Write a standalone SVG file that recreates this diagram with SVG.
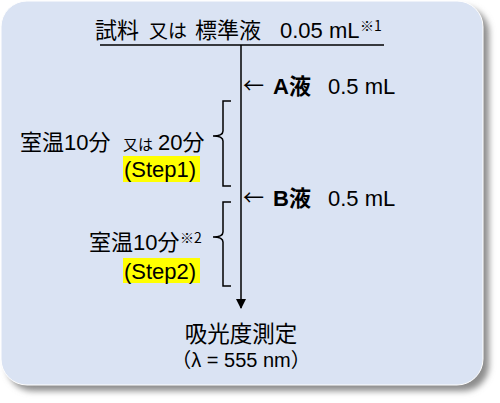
<svg xmlns="http://www.w3.org/2000/svg" width="500" height="403" viewBox="0 0 500 403">
<defs>
<filter id="sh" x="-10%" y="-10%" width="120%" height="120%"><feGaussianBlur stdDeviation="3"/></filter>
<marker id="ah" markerWidth="10" markerHeight="10" refX="9" refY="5" orient="auto" markerUnits="userSpaceOnUse"><path d="M0,0 L10,5 L0,10 Z" fill="#000"/></marker>
<style>
text{font-family:"Liberation Sans","Noto Sans CJK JP",sans-serif;fill:#000}
.t{font-size:22px}
.s{font-size:15px}
.sup{font-size:14px;font-family:"Noto Sans CJK JP",sans-serif}
.arr{font-size:21px;font-family:"Noto Sans CJK JP",sans-serif}
.b{font-weight:bold}
.ln{stroke:#000;stroke-width:1.5;fill:none}
.hl{fill:#FFFF00}
</style>
</defs>
<rect x="7" y="7" width="482" height="384" rx="26" fill="#8c8c8c" filter="url(#sh)"/>
<rect x="1" y="1" width="482" height="384" rx="26" fill="#DAE3F3" stroke="#ffffff" stroke-width="1"/>
<g id="title">
<text class="t" y="38"><tspan x="95">試料</tspan><tspan x="149" style="font-size:19px">又は</tspan><tspan x="195">標準液</tspan><tspan x="280">0.05 mL</tspan></text>
<text class="sup" x="360" y="31">※1</text>
</g>
<g id="connectors">
<line class="ln" x1="100" y1="45" x2="384" y2="45"/>
<line class="ln" x1="241" y1="45" x2="241" y2="308" marker-end="url(#ah)"/>
<path class="ln" d="M231,101 H223 V131 Q223,136 213,136 Q223,136 223,141 V186 H231"/>
<path class="ln" d="M231,202 H223 V232 Q223,237 213,237 Q223,237 223,242 V286 H231"/>
</g>
<g id="addA">
<text class="arr" x="243" y="93">←</text>
<text class="t b" x="273" y="94">A液</text>
<text class="t" x="328" y="94">0.5 mL</text>
</g>
<g id="step1">
<text class="t" x="20" y="150">室温10分</text>
<text class="s" x="123" y="150">又は</text>
<text class="t" x="158" y="150">20分</text>
<rect class="hl" x="123" y="156" width="77" height="26"/>
<text class="t" x="124" y="177">(Step1)</text>
</g>
<g id="addB">
<text class="arr" x="243" y="205">←</text>
<text class="t b" x="273" y="206">B液</text>
<text class="t" x="328" y="206">0.5 mL</text>
</g>
<g id="step2">
<text class="t" x="89" y="250">室温10分</text>
<text class="sup" x="180" y="243">※2</text>
<rect class="hl" x="123" y="258" width="77" height="25"/>
<text class="t" x="124" y="279">(Step2)</text>
</g>
<g id="measure">
<text class="t" x="241" y="342" text-anchor="middle" style="font-size:22.5px">吸光度測定</text>
<text x="241" y="367" text-anchor="middle" style="font-size:20px">（λ = 555 nm）</text>
</g>
</svg>
